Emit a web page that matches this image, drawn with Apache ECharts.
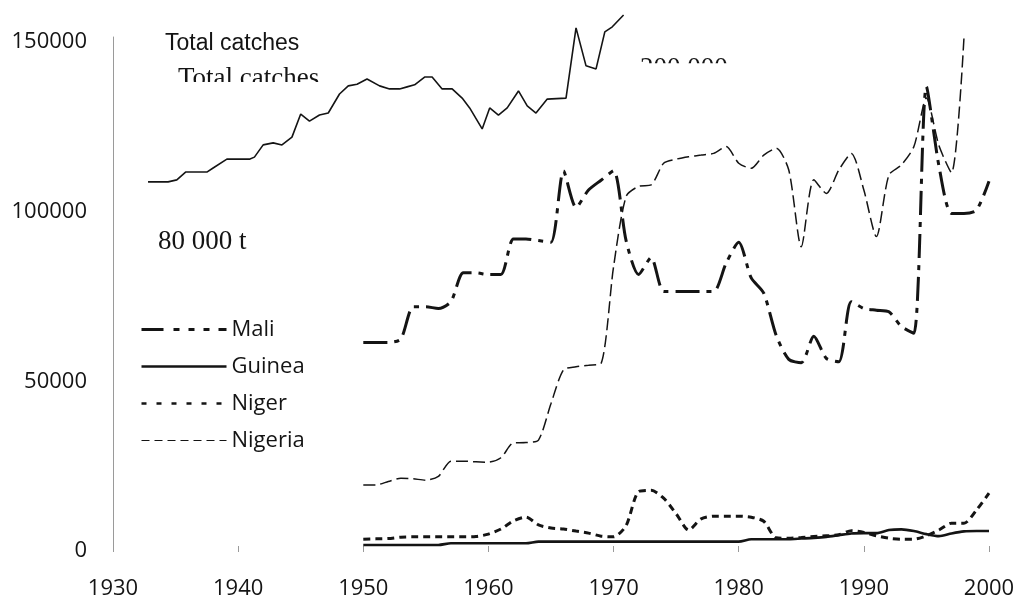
<!DOCTYPE html>
<html>
<head>
<meta charset="utf-8">
<script src="https://cdn.jsdelivr.net/npm/echarts@6/dist/echarts.min.js"></script>
<style>
  html, body { margin: 0; padding: 0; background: #ffffff; }
  #chart { width: 1015px; height: 596px; }
</style>
</head>
<body>
<div id="chart"></div>
<script>
// ---- data ----
const years = [1950,1951,1952,1953,1954,1955,1956,1957,1958,1959,
               1960,1961,1962,1963,1964,1965,1966,1967,1968,1969,
               1970,1971,1972,1973,1974,1975,1976,1977,1978,1979,
               1980,1981,1982,1983,1984,1985,1986,1987,1988,1989,
               1990,1991,1992,1993,1994,1995,1996,1997,1998,1999,2000];

const mali = [60000,60000,60000,61000,70500,70500,70000,72000,80500,80500,
              80000,80000,90500,90500,90000,89500,110500,99800,104900,107800,
              110600,90000,80000,85000,75000,75000,75000,75000,75000,83400,
              89500,79000,74500,62000,55000,54000,61800,55300,54300,72000,
              70000,69500,69000,64700,62700,135400,112000,98000,98000,99000,107500];

const guinea = [300,300,300,300,300,300,300,800,800,800,
                800,800,800,800,1300,1300,1300,1300,1300,1300,
                1300,1300,1300,1300,1300,1300,1300,1300,1300,1300,
                1300,2000,2000,2000,2000,2200,2400,2700,3200,3700,
                3800,3800,4700,4900,4400,3500,2900,3700,4300,4400,4400];

const niger = [2000,2100,2200,2600,2700,2700,2700,2700,2700,2800,
               3500,5000,7400,8500,6200,5300,5000,4400,3800,2900,
               2700,6000,16000,16400,14100,9500,4700,8000,8800,8800,
               8800,8500,7300,2400,2300,2500,2800,3000,3300,4500,
               4000,3000,2300,2000,2000,3000,4700,6700,6700,10600,15600];

// Nigeria data runs 1950-1998 (the line leaves the frame at the top in 1998)
const nigeria = [18000,18000,19000,20000,19800,19400,20500,25000,25000,24800,
                 24700,26000,30400,30500,31200,42000,51900,52800,53300,53800,
                 82300,103000,106000,106400,112800,114000,114700,115200,115700,117700,
                 112800,111300,115200,117200,110800,88200,107900,103900,110800,115700,
                 104900,91200,109300,112300,117700,132000,118000,110000,149800];

// "Total catches" curve (pasted from another figure; positions read as years)
const totalYears = [1932.8,1934.4,1935.1,1935.8,1937.5,1938.0,1939.1,1940.9,1941.3,1942.0,
                    1942.8,1943.5,1944.3,1945.0,1945.7,1946.5,1947.2,1948.1,1948.8,1949.5,
                    1950.3,1951.3,1952.1,1952.9,1953.5,1954.1,1954.9,1955.5,1956.3,1957.1,
                    1957.9,1958.5,1959.5,1960.1,1960.8,1961.5,1962.4,1963.1,1963.8,1964.7,
                    1966.2,1967.0,1967.8,1968.6,1969.3,1969.9,1970.8];
const totalValues = [107300,107300,107900,110200,110200,111400,114000,114000,114600,118200,
                     118800,118200,120500,127300,125200,127000,127600,133200,135600,136100,
                     137600,135600,134700,134700,135300,135900,138200,138200,134700,134700,
                     132000,129100,122900,129100,127000,129100,134100,129700,127600,131700,
                     132000,152700,141500,140600,151500,153000,156500];

const legendNames = ['Mali','Guinea','Niger','Nigeria'];
const xTicks = { min: 1930, max: 2000, step: 10 };
const yTicks = { min: 0, max: 150000, step: 50000 };

const notes = {
  totalSans: 'Total catches',
  totalSerif: 'Total catches',
  big: '200 000',
  mali80: '80 000 t'
};

// ---- build ----
function pairs(xs, ys) { return ys.map((v, i) => [xs[i], v]); }

const ink = '#141414';
const axisGrey = '#9a9a9a';

const lineStyles = {
  Mali:    { width: 3,   type: [24, 7, 5, 7] },
  Guinea:  { width: 2.6, type: 'solid' },
  Niger:   { width: 3,   type: [7, 5] },
  Nigeria: { width: 1.5, type: [12, 5] }
};
const legendLineStyles = {
  Mali:    { width: 3,   type: [22, 10, 6, 9, 6, 9, 6, 9] },
  Guinea:  { width: 2.6, type: 'solid' },
  Niger:   { width: 2.6, type: [5, 10] },
  Nigeria: { width: 1.2, type: [8, 5] }
};

const chart = echarts.init(document.getElementById('chart'), null, { renderer: 'canvas' });

chart.setOption({
  backgroundColor: '#ffffff',
  animation: false,
  color: [ink],
  grid: { left: 113, right: 26, top: 37, bottom: 50, containLabel: false, outerBoundsMode: 'none' },
  xAxis: {
    type: 'value',
    min: xTicks.min, max: xTicks.max, interval: xTicks.step,
    axisLine: { show: false },
    axisTick: { show: true, length: 6, lineStyle: { color: axisGrey, width: 1 } },
    splitLine: { show: false },
    axisLabel: {
      margin: 32,
      color: ink,
      fontFamily: 'Open Sans',
      fontSize: 22,
      formatter: v => String(v)
    }
  },
  yAxis: {
    type: 'value',
    min: yTicks.min, max: yTicks.max, interval: yTicks.step,
    axisLine: { show: true, lineStyle: { color: axisGrey, width: 1 } },
    axisTick: { show: false },
    splitLine: { show: false },
    axisLabel: {
      margin: 26,
      formatter: v => '{t|' + v + '}',
      rich: {
        t: { color: ink, fontFamily: 'Open Sans', fontSize: 22, padding: [10, 0, 0, 0] }
      }
    }
  },
  legend: {
    data: legendNames.map(n => ({ name: n, lineStyle: Object.assign({ color: ink }, legendLineStyles[n]) })),
    orient: 'vertical',
    left: 140,
    top: 316.5,
    padding: 0,
    itemWidth: 85,
    itemHeight: 14,
    itemGap: 11,
    selectedMode: false,
    itemStyle: { opacity: 0 },
    textStyle: { color: ink, fontFamily: 'Open Sans', fontSize: 22, lineHeight: 26, padding: [0, 0, 0, 0] }
  },
  graphic: [
    { type: 'text', z: 0, style: { text: notes.totalSans, x: 165, y: 43.5, font: '23px "Liberation Sans", Arial, sans-serif', fill: ink, align: 'left', verticalAlign: 'middle' } },
    { type: 'text', z: 0, style: { text: notes.totalSerif, x: 178, y: 78.5, font: '27px "Liberation Serif", "Times New Roman", serif', fill: ink, align: 'left', verticalAlign: 'middle' } },
    { type: 'rect', z: 1, shape: { x: 170, y: 82, width: 165, height: 16 }, style: { fill: '#ffffff' } },
    { type: 'text', z: 0, style: { text: notes.big, x: 640, y: 69, font: '27px "Liberation Serif", "Times New Roman", serif', fill: ink, align: 'left', verticalAlign: 'middle' } },
    { type: 'rect', z: 1, shape: { x: 630, y: 63.3, width: 112, height: 22 }, style: { fill: '#ffffff' } },
    { type: 'text', z: 0, style: { text: notes.mali80, x: 158, y: 242, font: '27px "Liberation Serif", "Times New Roman", serif', fill: ink, align: 'left', verticalAlign: 'middle' } }
  ],
  series: [
    {
      name: 'Total catches', type: 'line', symbol: 'none', smooth: false, clip: false,
      data: pairs(totalYears, totalValues),
      itemStyle: { color: ink },
      lineStyle: { color: ink, width: 1.6, type: 'solid' }
    },
    {
      name: 'Mali', type: 'line', symbol: 'none', smooth: 0.25,
      data: pairs(years, mali),
      itemStyle: { color: ink },
      lineStyle: Object.assign({ color: ink }, lineStyles.Mali)
    },
    {
      name: 'Guinea', type: 'line', symbol: 'none', smooth: 0.25,
      data: pairs(years, guinea),
      itemStyle: { color: ink },
      lineStyle: Object.assign({ color: ink }, lineStyles.Guinea)
    },
    {
      name: 'Niger', type: 'line', symbol: 'none', smooth: 0.25,
      data: pairs(years, niger),
      itemStyle: { color: ink },
      lineStyle: Object.assign({ color: ink }, lineStyles.Niger)
    },
    {
      name: 'Nigeria', type: 'line', symbol: 'none', smooth: 0.25,
      data: pairs(years.slice(0, nigeria.length), nigeria),
      itemStyle: { color: ink },
      lineStyle: Object.assign({ color: ink }, lineStyles.Nigeria)
    }
  ]
});
</script>
</body>
</html>
